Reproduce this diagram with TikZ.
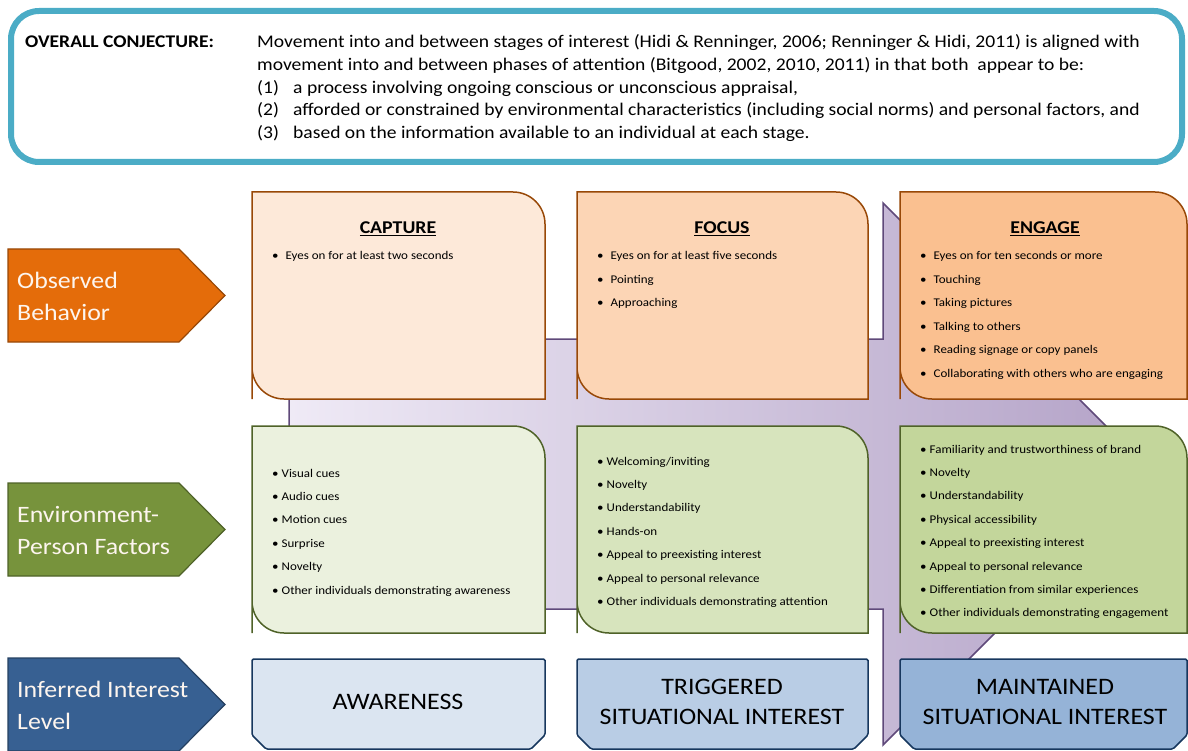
\documentclass[tikz,border=0pt]{standalone}
\usepackage{fontspec}
\setmainfont{Carlito}[FakeStretch=1.1]
\usetikzlibrary{calc}
\definecolor{conjteal}{HTML}{4BACC6}
\definecolor{obsorange}{HTML}{E46C0A}
\definecolor{obsedge}{HTML}{984807}
\definecolor{envgreen}{HTML}{77933C}
\definecolor{envedge}{HTML}{4F6228}
\definecolor{lvlblue}{HTML}{376092}
\definecolor{lvledge}{HTML}{254061}
\definecolor{capfill}{HTML}{FDE9D9}
\definecolor{focfill}{HTML}{FCD5B5}
\definecolor{engfill}{HTML}{FAC090}
\definecolor{awafill}{HTML}{EBF1DE}
\definecolor{trgfill}{HTML}{D7E4BD}
\definecolor{mntfill}{HTML}{C3D69B}
\definecolor{lvlfillA}{HTML}{DBE5F1}
\definecolor{lvlfillB}{HTML}{B9CDE5}
\definecolor{lvlfillC}{HTML}{95B3D7}
\definecolor{lvlboxedge}{HTML}{17375E}
\definecolor{arrowlight}{HTML}{EFEAF6}
\definecolor{arrowdark}{HTML}{B3A2C7}
\definecolor{arrowedge}{HTML}{5F497A}
\definecolor{labeltext}{HTML}{FDF5EE}
\tikzset{%
    conjbox/.style={draw=conjteal,line width=6pt,rounded corners=28pt},
    headline/.style={anchor=base west,inner sep=0pt,font=\fontsize{17.8}{21}\selectfont},
    rowlabel/.style={anchor=base west,inner sep=0pt,text=labeltext,font=\fontsize{23.5}{27}\selectfont},
    sidearrow/.style={line width=1.2pt},
    stage/.style={line width=1.5pt},
    stagetitle/.style={anchor=base,inner sep=0pt,font=\bfseries\fontsize{18}{21}\selectfont},
    item/.style={anchor=base west,inner sep=0pt,font=\fontsize{11.8}{14}\selectfont},
    levelbox/.style={draw=lvlboxedge,line width=1.5pt,rounded corners=1.5pt},
    leveltext/.style={anchor=base,inner sep=0pt,font=\fontsize{23.6}{28}\selectfont},
}
\begin{document}
\begin{tikzpicture}[x=1pt,y=-1pt]
    \useasboundingbox (0,0) rectangle (1188,751);

    % conjecture box
    \draw[conjbox] (11,11) rectangle (1182,162);
    \node[headline,font=\bfseries\fontsize{17.8}{21}\selectfont] (conj) at (25,48) {OVERALL CONJECTURE:};
    \node[headline] (conj1) at (257,48) {Movement into and between stages of interest (Hidi \& Renninger, 2006; Renninger \& Hidi, 2011) is aligned with};
    \node[headline] (conj2) at (257,71) {movement into and between phases of attention (Bitgood, 2002, 2010, 2011) in that both\ \ appear to be:};
    \node[headline] (num1) at (257,94) {(1)};
    \node[headline] (conj3) at (293,94) {a process involving ongoing conscious or unconscious appraisal,};
    \node[headline] (num2) at (257,116) {(2)};
    \node[headline] (conj4) at (293,116) {afforded or constrained by environmental characteristics (including social norms) and personal factors, and};
    \node[headline] (num3) at (257,139) {(3)};
    \node[headline] (conj5) at (293,139) {based on the information available to an individual at each stage.};

    % big arrow behind the boxes
    \shadedraw[left color=arrowlight,right color=arrowdark,draw=arrowedge,line width=1.5pt]
        (289,339) -- (883,339) -- (883,203) -- (1154,474) -- (883,745) -- (883,609) -- (289,609) -- cycle;

    % row labels
    \draw[sidearrow,fill=obsorange,draw=obsedge] (8,249) -- (179,249) -- (225,295.5) -- (179,342) -- (8,342) -- cycle;
    \node[rowlabel] (obs1) at (17,288) {Observed};
    \node[rowlabel] (obs2) at (17,320) {Behavior};

    \draw[sidearrow,fill=envgreen,draw=envedge] (8,483) -- (179,483) -- (225,529.5) -- (179,576) -- (8,576) -- cycle;
    \node[rowlabel] (env1) at (17,522) {Environment-};
    \node[rowlabel] (env2) at (17,554) {Person Factors};

    \draw[sidearrow,fill=lvlblue,draw=lvledge] (8,658) -- (179,658) -- (225,704.5) -- (179,751) -- (8,751) -- cycle;
    \node[rowlabel] (lvl1) at (17,697) {Inferred Interest};
    \node[rowlabel] (lvl2) at (17,729) {Level};

    % observed behavior
    \draw[stage,fill=capfill,draw=obsedge] (252,399) -- (252,192) [rounded corners=32pt] -- (545,192) [sharp corners] -- (545,399) [rounded corners=32pt] -- (252,399) [sharp corners] -- cycle;
    \draw[stage,fill=focfill,draw=obsedge] (577,399) -- (577,192) [rounded corners=32pt] -- (868,192) [sharp corners] -- (868,399) [rounded corners=32pt] -- (577,399) [sharp corners] -- cycle;
    \draw[stage,fill=engfill,draw=obsedge] (900,399) -- (900,192) [rounded corners=32pt] -- (1187,192) [sharp corners] -- (1187,399) [rounded corners=32pt] -- (900,399) [sharp corners] -- cycle;

    \node[stagetitle] (capture) at (398,234) {\underline{CAPTURE}};
    \node[stagetitle] (focus) at (722,234) {\underline{FOCUS}};
    \node[stagetitle] (engage) at (1045,234) {\underline{ENGAGE}};

    \node[item] (cap-b1) at (272,260) {\textbullet\hspace{7pt}Eyes on for at least two seconds};
    \foreach \txt [count=\i] in {Eyes on for at least five seconds,Pointing,Approaching}
        \node[item] (foc-b\i) at (597,{260+(\i-1)*23.3}) {\textbullet\hspace{7pt}\txt};
    \foreach \txt [count=\i] in {Eyes on for ten seconds or more,Touching,Taking pictures,Talking to others,Reading signage or copy panels,Collaborating with others who are engaging}
        \node[item] (eng-b\i) at (920,{260+(\i-1)*23.4}) {\textbullet\hspace{7pt}\txt};

    % environment-person factors
    \draw[stage,fill=awafill,draw=envedge] (252,633) -- (252,426) [rounded corners=32pt] -- (545,426) [sharp corners] -- (545,633) [rounded corners=32pt] -- (252,633) [sharp corners] -- cycle;
    \draw[stage,fill=trgfill,draw=envedge] (577,633) -- (577,426) [rounded corners=32pt] -- (868,426) [sharp corners] -- (868,633) [rounded corners=32pt] -- (577,633) [sharp corners] -- cycle;
    \draw[stage,fill=mntfill,draw=envedge] (900,633) -- (900,426) [rounded corners=32pt] -- (1187,426) [sharp corners] -- (1187,633) [rounded corners=32pt] -- (900,633) [sharp corners] -- cycle;

    \foreach \txt [count=\i] in {Visual cues,Audio cues,Motion cues,Surprise,Novelty,Other individuals demonstrating awareness}
        \node[item] (awa-f\i) at (272,{477+(\i-1)*23.4}) {\textbullet\hspace{3pt}\txt};
    \foreach \txt [count=\i] in {Welcoming/inviting,Novelty,Understandability,Hands-on,Appeal to preexisting interest,Appeal to personal relevance,Other individuals demonstrating attention}
        \node[item] (trg-f\i) at (597,{465+(\i-1)*23.4}) {\textbullet\hspace{3pt}\txt};
    \foreach \txt [count=\i] in {Familiarity and trustworthiness of brand,Novelty,Understandability,Physical accessibility,Appeal to preexisting interest,Appeal to personal relevance,Differentiation from similar experiences,Other individuals demonstrating engagement}
        \node[item] (mnt-f\i) at (920,{453+(\i-1)*23.4}) {\textbullet\hspace{3pt}\txt};

    % inferred interest level
    \draw[levelbox,fill=lvlfillA] (252,659) -- (545,659) -- (545,735) -- (531,749) -- (266,749) -- (252,735) -- cycle;
    \draw[levelbox,fill=lvlfillB] (577,659) -- (868,659) -- (868,735) -- (854,749) -- (591,749) -- (577,735) -- cycle;
    \draw[levelbox,fill=lvlfillC] (900,659) -- (1187,659) -- (1187,735) -- (1173,749) -- (914,749) -- (900,735) -- cycle;

    \node[leveltext] (awareness) at (398,709) {AWARENESS};
    \node[leveltext] (triggered1) at (722,694) {TRIGGERED};
    \node[leveltext] (triggered2) at (722,724) {SITUATIONAL INTEREST};
    \node[leveltext] (maintained1) at (1045,694) {MAINTAINED};
    \node[leveltext] (maintained2) at (1045,724) {SITUATIONAL INTEREST};
\end{tikzpicture}
\end{document}
